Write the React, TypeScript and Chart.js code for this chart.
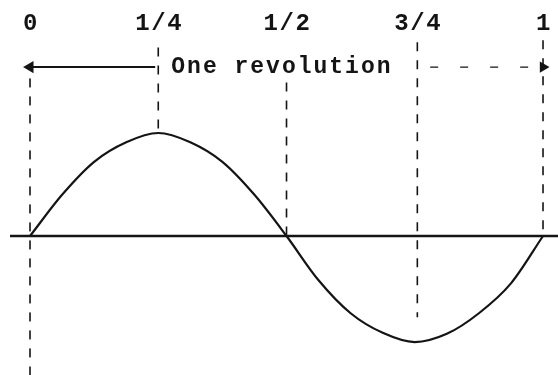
import React, { useEffect, useRef } from "react";
import { Chart, registerables } from "chart.js";

Chart.register(...registerables);

// Fraction of one revolution (x positions of curve samples)
const revolution = [0, 1/16, 2/16, 3/16, 4/16, 5/16, 6/16, 7/16, 8/16, 9/16, 10/16, 11/16, 12/16, 13/16, 14/16, 15/16, 1];
// Displacement (peak ≈ 1)
const displacement = [0, 0.4, 0.72, 0.91, 1.0, 0.91, 0.72, 0.4, 0, -0.43, -0.75, -0.94, -1.03, -0.95, -0.75, -0.46, 0];

// Tick marks along the top
const tickPositions = [0, 0.25, 0.5, 0.755, 1];
const tickLabels = ["0", "1/4", "1/2", "3/4", "1"];
// Dashed guide lines: [from, to] in displacement units
const guideTop = [1.53, 1.83, 1.49, 1.88, 1.9];
const guideBottom = [-1.35, 1.0, 0, -0.79, 0];

const arrowLevel = 1.64;
const arrowLeftEnd = 0.244;
const arrowRightStart = 0.78;
const captionText = "One revolution";
const captionPos = 0.491;
const labelLevel = 2.06;

const INK = "#141414";

const textPlugin = {
  id: "typedText",
  afterDatasetsDraw(chart: any) {
    const { ctx, scales } = chart;
    const xs = scales.x;
    const ys = scales.y;
    ctx.save();
    ctx.fillStyle = INK;
    ctx.textAlign = "center";
    ctx.textBaseline = "middle";
    ctx.font = "bold 24px 'Liberation Mono', monospace";
    try { (ctx as any).letterSpacing = "1.6px"; } catch (e) {}
    tickLabels.forEach((lab, i) => {
      ctx.fillText(lab, xs.getPixelForValue(tickPositions[i]) + 1, ys.getPixelForValue(labelLevel));
    });
    ctx.font = "bold 23px 'Liberation Mono', monospace";
    try { (ctx as any).letterSpacing = "2px"; } catch (e) {}
    const cx = xs.getPixelForValue(captionPos);
    const cy = ys.getPixelForValue(arrowLevel);
    const w = ctx.measureText(captionText).width;
    ctx.fillStyle = "#ffffff";
    ctx.fillRect(cx - w / 2 - 4, cy - 12, w + 8, 24);
    ctx.fillStyle = INK;
    ctx.fillText(captionText, cx, cy);
    ctx.restore();
  },
};

export default function App() {
  const ref = useRef<HTMLCanvasElement | null>(null);
  useEffect(() => {
    if (!ref.current) return;
    const curve = revolution.map((t, i) => ({ x: t, y: displacement[i] }));
    const guides = tickPositions.map((t, i) => ({
      type: "line",
      data: [
        { x: t, y: guideTop[i] },
        { x: t, y: guideBottom[i] },
      ],
      borderColor: INK,
      borderWidth: 1.6,
      borderDash: [9, 9],
      pointRadius: 0,
    }));
    const chart = new Chart(ref.current, {
      type: "line",
      data: {
        datasets: [
          {
            data: [
              { x: -0.039, y: 0 },
              { x: 1.03, y: 0 },
            ],
            borderColor: INK,
            borderWidth: 2.5,
            pointRadius: 0,
          },
          ...(guides as any),
          {
            data: curve,
            borderColor: INK,
            borderWidth: 2.2,
            pointRadius: 0,
            cubicInterpolationMode: "monotone",
          },
          {
            data: [
              { x: 0, y: arrowLevel },
              { x: arrowLeftEnd, y: arrowLevel },
            ],
            borderColor: INK,
            borderWidth: 2,
            pointRadius: [5, 0],
            pointStyle: "triangle",
            rotation: -90,
            pointBackgroundColor: INK,
            pointBorderColor: INK,
          },
          {
            data: [
              { x: arrowRightStart, y: arrowLevel },
              { x: 1, y: arrowLevel },
            ],
            borderColor: INK,
            borderWidth: 1.4,
            borderDash: [8, 22],
            pointRadius: [0, 5],
            pointStyle: "triangle",
            rotation: 90,
            pointBackgroundColor: INK,
            pointBorderColor: INK,
          },
        ],
      },
      options: {
        animation: false,
        responsive: false,
        layout: { padding: 0, autoPadding: false },
        plugins: { legend: { display: false }, tooltip: { enabled: false } },
        scales: {
          x: { type: "linear", min: -0.0585, max: 1.0292, display: false },
          y: { type: "linear", min: -1.3495, max: 2.2913, display: false },
        },
      },
      plugins: [textPlugin],
    } as any);
    return () => chart.destroy();
  }, []);
  return (
    <div style={{ position: "fixed", left: 0, top: 0, width: 558, height: 375, background: "#fff" }}>
      <canvas ref={ref} width={558} height={375} style={{ width: 558, height: 375, display: "block" }} />
    </div>
  );
}
